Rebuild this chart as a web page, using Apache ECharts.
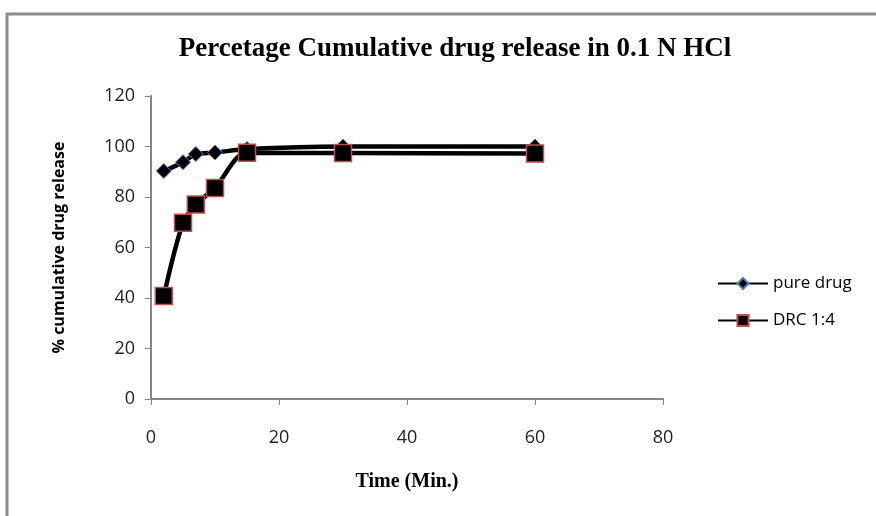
<!DOCTYPE html>
<html>
<head>
<meta charset="utf-8">
<script src="https://cdn.jsdelivr.net/npm/echarts@6/dist/echarts.min.js"></script>
<style>
  html, body { margin: 0; padding: 0; background: #fff; }
  #chart { width: 876px; height: 516px; }
</style>
</head>
<body>
<div id="chart"></div>
<script>
// time points (min)
var times = [2, 5, 7, 10, 15, 30, 60]
var pureDrug = [90.3, 93.8, 97, 97.6, 99, 100, 100]
var drc = [40.8, 69.8, 77, 83.6, 97.5, 97.4, 97.2]
var seriesNames = ['pure drug', 'DRC 1:4']

function toPoints (ys) {
  return times.map(function (t, i) { return [t, ys[i]] })
}

var chart = echarts.init(document.getElementById('chart'))
var axisColor = '#868686'
var labelFont = 'Open Sans, Liberation Sans, sans-serif'

chart.setOption({
  animation: false,
  title: {
    text: 'Percetage Cumulative drug release in 0.1 N HCl',
    left: 450,
    top: 31,
    textAlign: 'center',
    textStyle: {
      fontFamily: 'Liberation Serif, serif',
      fontWeight: 'bold',
      fontSize: 27,
      color: '#000'
    }
  },
  graphic: [{
    type: 'rect',
    shape: { x: 7, y: 14, width: 890, height: 530 },
    style: { fill: 'none', stroke: '#8c8c8c', lineWidth: 3 }
  }],
  legend: {
    orient: 'vertical',
    left: 712,
    top: 270,
    itemGap: 20,
    itemWidth: 50,
    itemHeight: 14,
    textStyle: { fontFamily: labelFont, fontSize: 17, color: '#000' },
    data: seriesNames
  },
  grid: { left: 151, top: 96, width: 512, height: 303 },
  xAxis: {
    type: 'value',
    min: 0,
    max: 80,
    interval: 20,
    name: 'Time (Min.)',
    nameLocation: 'middle',
    nameGap: 73,
    nameTextStyle: {
      fontFamily: 'Liberation Serif, serif',
      fontWeight: 'bold',
      fontSize: 20,
      color: '#000'
    },
    axisLine: { lineStyle: { color: axisColor, width: 2 } },
    axisTick: { show: true, length: 6, lineStyle: { color: axisColor, width: 1 } },
    axisLabel: { margin: 30, fontFamily: labelFont, fontSize: 18, color: '#222' },
    splitLine: { show: false }
  },
  yAxis: {
    type: 'value',
    min: 0,
    max: 120,
    interval: 20,
    name: '% cumulative drug release',
    nameLocation: 'middle',
    nameGap: 84,
    nameRotate: 90,
    nameTextStyle: {
      fontFamily: labelFont,
      fontWeight: 'bold',
      fontSize: 16,
      color: '#000'
    },
    axisLine: { show: true, lineStyle: { color: axisColor, width: 2 } },
    axisTick: { show: true, length: 6, lineStyle: { color: axisColor, width: 1 } },
    axisLabel: { margin: 16, fontFamily: labelFont, fontSize: 18, color: '#222' },
    splitLine: { show: false }
  },
  series: [
    {
      name: seriesNames[0],
      type: 'line',
      smooth: 0.3,
      data: toPoints(pureDrug),
      symbol: 'diamond',
      symbolSize: 15,
      lineStyle: { color: '#000', width: 4.5 },
      itemStyle: { color: '#000', borderColor: '#4f81bd', borderWidth: 1 }
    },
    {
      name: seriesNames[1],
      type: 'line',
      smooth: 0.3,
      data: toPoints(drc),
      symbol: 'rect',
      symbolSize: 17,
      lineStyle: { color: '#000', width: 4.5 },
      itemStyle: { color: '#000', borderColor: '#c0504d', borderWidth: 1.5 }
    }
  ]
})
</script>
</body>
</html>
